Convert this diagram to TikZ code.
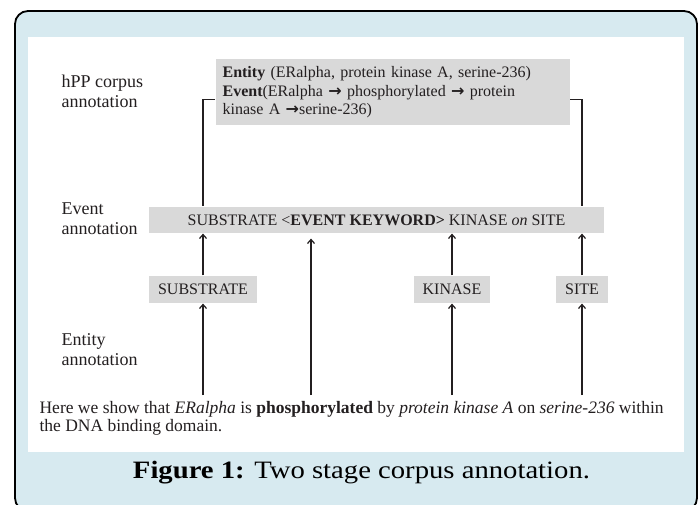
\documentclass[tikz,border=0pt]{standalone}
\usepackage{fontspec}
\setmainfont{Liberation Serif}
\newfontfamily\arrowfont{DejaVu Sans}
\usepackage{graphicx}
\usepackage{tikz}
\usetikzlibrary{positioning,arrows.meta,calc}
\definecolor{framebg}{RGB}{215,234,240}
\definecolor{boxgray}{RGB}{217,217,217}
\definecolor{ink}{RGB}{35,31,32}
\newcommand{\evarrow}{{\arrowfont\bfseries →}}

\begin{document}
\begin{tikzpicture}[
  x=1pt,y=-1pt,
  line width=1.2pt,
  every node/.style={text=ink},
  lvl/.style={anchor=north west,align=left,inner sep=0pt,
    font=\fontsize{18}{20}\selectfont},
  tag/.style={fill=boxgray,inner xsep=9pt,inner ysep=0pt,
    minimum height=27pt,font=\fontsize{16}{18}\selectfont},
  up/.style={draw=ink,-{Straight Barb[length=4pt,width=7pt]}},
  link/.style={draw=ink}
]
\useasboundingbox (0,0) rectangle (699,504);
\clip (0,0) rectangle (699,504);

% frame
\draw[fill=framebg,line width=1.8pt,rounded corners=13pt]
  (15,11) rectangle (697,511);
\fill[white] (28,37) rectangle (684,452);

% levels
\node[lvl] (lab-hpp) at (61,74) {hPP corpus\\annotation};
\node[lvl] (lab-event) at (61,202) {Event\\annotation};
\node[lvl] (lab-entity) at (61,333) {Entity\\annotation};

% hPP corpus box
\node[fill=boxgray,anchor=north west,text width=340pt,align=left,
  inner xsep=7pt,inner ysep=0pt,minimum height=66pt,
  font=\fontsize{16}{18.5}\selectfont] (hpp) at (215,58)
  {\rule{0pt}{13pt}\textbf{Entity} (ERalpha, protein kinase A, serine-236)\\
   \textbf{Event}(ERalpha \evarrow{} phosphorylated \evarrow{} protein\\
   kinase A \evarrow{}serine-236)};

% event annotation
\node[tag,minimum width=455pt,minimum height=26pt] (event) at (376.5,220)
  {SUBSTRATE <\textbf{EVENT KEYWORD>} KINASE \textit{on} SITE};

% entity annotation
\node[tag] (sub) at (203,289.5) {SUBSTRATE};
\node[tag] (kin) at (452,289.5) {KINASE};
\node[tag] (site) at (582,289.5) {SITE};

% sentence
\node[anchor=north west,align=left,inner sep=0pt,
  font=\fontsize{17.5}{18}\selectfont] (sent) at (39,401)
  {Here we show that \textit{ERalpha} is \textbf{phosphorylated} by
   \textit{protein kinase A} on \textit{serine-236} within\\
   the DNA binding domain.};
\coordinate (w-sub) at (203,395);
\coordinate (w-phos) at (311,395);
\coordinate (w-kin) at (452,395);
\coordinate (w-site) at (582,395);

% arrows
\draw[up] (w-sub) -- (sub.south);
\draw[up] (w-kin) -- (kin.south);
\draw[up] (w-site) -- (site.south);
\draw[up] (w-phos) -- ($(event.south -| w-phos)+(0,5)$);
\draw[up] (sub.north) -- (sub.north |- event.south);
\draw[up] (kin.north) -- (kin.north |- event.south);
\draw[up] (site.north) -- (site.north |- event.south);

% brackets
\draw[link] ($(hpp.west)+(0,8)$) -| (sub.north |- event.north);
\draw[link] ($(hpp.east)+(0,8)$) -| (site.north |- event.north);

% caption
\node[anchor=base,text=black,font=\fontsize{25}{28}\selectfont] (caption)
  at (361.5,478)
  {\resizebox{457pt}{\height}{\textbf{Figure 1:} Two stage corpus annotation.}};
\end{tikzpicture}
\end{document}
